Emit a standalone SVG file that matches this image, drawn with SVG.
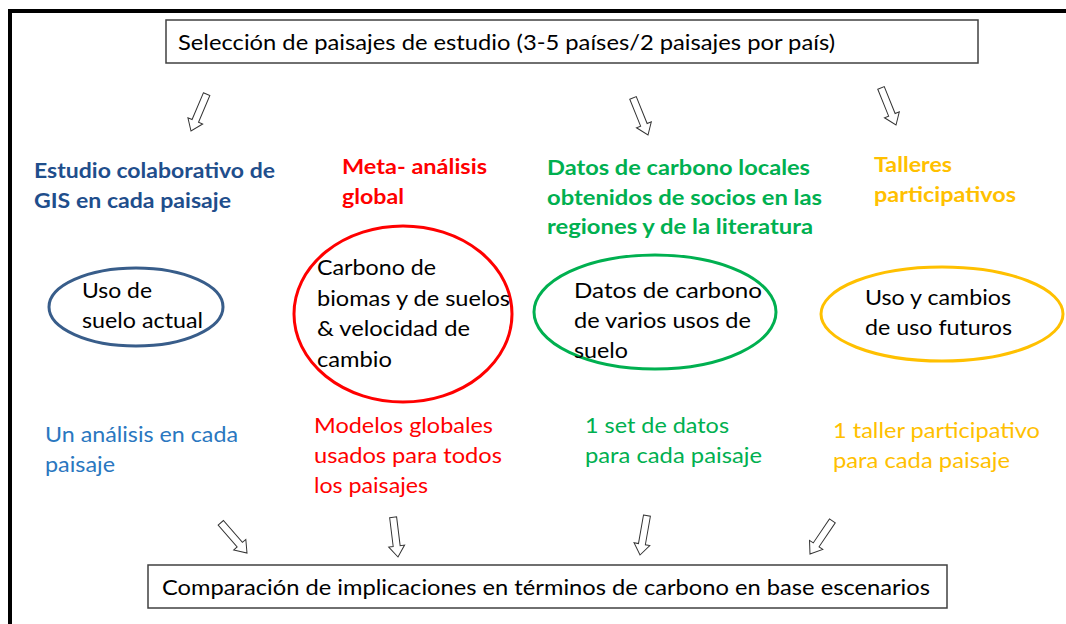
<svg xmlns="http://www.w3.org/2000/svg" xmlns:xlink="http://www.w3.org/1999/xlink" width="1066" height="624" viewBox="0 0 1066 624">
<style>
.box{fill:#fff;stroke:#404040;stroke-width:1.5}
.t{font-family:Lato,"Open Sans","Liberation Sans",sans-serif;font-size:21px;fill:#000}
.b{font-weight:bold}
.arr{fill:#fff;stroke:#333;stroke-width:1}
.ell{fill:none;stroke-width:3}
</style>
<defs>
<path id="arrow" d="M-3.5,-40 L3.5,-40 L3.5,-11 L8,-11 L0,0 L-8,-11 L-3.5,-11 Z"/>
</defs>
<rect width="1066" height="624" fill="#fff"/>
<path d="M10,624 V11 H1066" fill="none" stroke="#000" stroke-width="4"/>

<g id="top-box">
<rect class="box" x="166" y="20" width="812" height="43"/>
<text class="t" x="178" y="50" textLength="657" lengthAdjust="spacingAndGlyphs">Selección de paisajes de estudio (3-5 países/2 paisajes por país)</text>
</g>

<g id="gis-title" fill="#1f4e8c">
<text class="t b" style="fill:#1f4e8c" x="34" y="178" textLength="241" lengthAdjust="spacingAndGlyphs">Estudio colaborativo de</text>
<text class="t b" style="fill:#1f4e8c" x="34" y="208" textLength="197" lengthAdjust="spacingAndGlyphs">GIS en cada paisaje</text>
</g>
<g id="meta-title">
<text class="t b" style="fill:#ff0000" x="342" y="174" textLength="145" lengthAdjust="spacingAndGlyphs">Meta- análisis</text>
<text class="t b" style="fill:#ff0000" x="342" y="204" textLength="62" lengthAdjust="spacingAndGlyphs">global</text>
</g>
<g id="datos-title">
<text class="t b" style="fill:#00b050" x="547" y="175" textLength="263" lengthAdjust="spacingAndGlyphs">Datos de carbono locales</text>
<text class="t b" style="fill:#00b050" x="547" y="205" textLength="275" lengthAdjust="spacingAndGlyphs">obtenidos de socios en las</text>
<text class="t b" style="fill:#00b050" x="547" y="234" textLength="266" lengthAdjust="spacingAndGlyphs">regiones y de la literatura</text>
</g>
<g id="talleres-title">
<text class="t b" style="fill:#ffc000" x="874" y="172" textLength="78" lengthAdjust="spacingAndGlyphs">Talleres</text>
<text class="t b" style="fill:#ffc000" x="874" y="202" textLength="142" lengthAdjust="spacingAndGlyphs">participativos</text>
</g>

<g id="uso-suelo">
<ellipse class="ell" cx="136" cy="307" rx="87" ry="39" stroke="#385d8a"/>
<text class="t" x="82" y="298" textLength="70" lengthAdjust="spacingAndGlyphs">Uso de</text>
<text class="t" x="82" y="328" textLength="121" lengthAdjust="spacingAndGlyphs">suelo actual</text>
</g>
<g id="carbono-biomas">
<ellipse class="ell" cx="403" cy="314" rx="109" ry="88" stroke="#ff0000"/>
<text class="t" x="317" y="275" textLength="119" lengthAdjust="spacingAndGlyphs">Carbono de</text>
<text class="t" x="317" y="306" textLength="193" lengthAdjust="spacingAndGlyphs">biomas y de suelos</text>
<text class="t" x="317" y="336" textLength="153" lengthAdjust="spacingAndGlyphs">&amp; velocidad de</text>
<text class="t" x="317" y="367" textLength="75" lengthAdjust="spacingAndGlyphs">cambio</text>
</g>
<g id="datos-carbono">
<ellipse class="ell" cx="655" cy="312" rx="121" ry="57" stroke="#00b050"/>
<text class="t" x="574" y="298" textLength="188" lengthAdjust="spacingAndGlyphs">Datos de carbono</text>
<text class="t" x="574" y="328" textLength="177" lengthAdjust="spacingAndGlyphs">de varios usos de</text>
<text class="t" x="574" y="358" textLength="54" lengthAdjust="spacingAndGlyphs">suelo</text>
</g>
<g id="uso-futuros">
<ellipse class="ell" cx="942" cy="314" rx="121" ry="47" stroke="#ffc000"/>
<text class="t" x="865" y="305" textLength="146" lengthAdjust="spacingAndGlyphs">Uso y cambios</text>
<text class="t" x="865" y="335" textLength="147" lengthAdjust="spacingAndGlyphs">de uso futuros</text>
</g>

<g id="analisis-note">
<text class="t" style="fill:#2a77c0" x="45" y="442" textLength="193" lengthAdjust="spacingAndGlyphs">Un análisis en cada</text>
<text class="t" style="fill:#2a77c0" x="45" y="472" textLength="70" lengthAdjust="spacingAndGlyphs">paisaje</text>
</g>
<g id="modelos-note">
<text class="t" style="fill:#ff0000" x="314" y="433" textLength="179" lengthAdjust="spacingAndGlyphs">Modelos globales</text>
<text class="t" style="fill:#ff0000" x="314" y="463" textLength="188" lengthAdjust="spacingAndGlyphs">usados para todos</text>
<text class="t" style="fill:#ff0000" x="314" y="493" textLength="114" lengthAdjust="spacingAndGlyphs">los paisajes</text>
</g>
<g id="set-note">
<text class="t" style="fill:#00b050" x="585" y="433" textLength="144" lengthAdjust="spacingAndGlyphs">1 set de datos</text>
<text class="t" style="fill:#00b050" x="585" y="463" textLength="177" lengthAdjust="spacingAndGlyphs">para cada paisaje</text>
</g>
<g id="taller-note">
<text class="t" style="fill:#ffc000" x="833" y="438" textLength="207" lengthAdjust="spacingAndGlyphs">1 taller participativo</text>
<text class="t" style="fill:#ffc000" x="833" y="468" textLength="177" lengthAdjust="spacingAndGlyphs">para cada paisaje</text>
</g>

<g id="bottom-box">
<rect class="box" x="148" y="565" width="799" height="43"/>
<text class="t" x="162" y="595" textLength="768" lengthAdjust="spacingAndGlyphs">Comparación de implicaciones en términos de carbono en base escenarios</text>
</g>

<g id="connectors">
<use xlink:href="#arrow" class="arr" transform="translate(191,131) rotate(23)"/>
<use xlink:href="#arrow" class="arr" transform="translate(648,135) rotate(-22)"/>
<use xlink:href="#arrow" class="arr" transform="translate(896,125) rotate(-22)"/>
<use xlink:href="#arrow" class="arr" transform="translate(247,553) rotate(-41)"/>
<use xlink:href="#arrow" class="arr" transform="translate(398,557) rotate(-7)"/>
<use xlink:href="#arrow" class="arr" transform="translate(640,555) rotate(10)"/>
<use xlink:href="#arrow" class="arr" transform="translate(810,554) rotate(34)"/>
</g>
</svg>
